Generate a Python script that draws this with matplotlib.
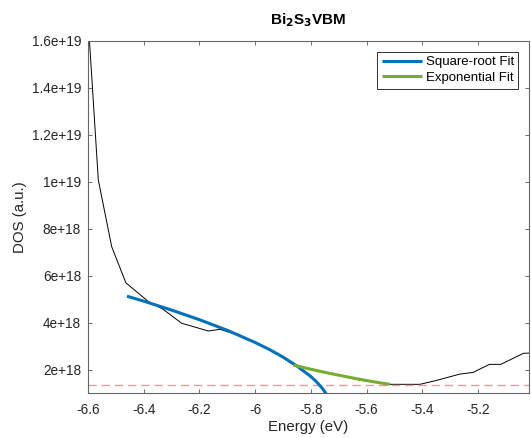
import matplotlib
matplotlib.use('Agg')
import matplotlib.pyplot as plt
import numpy as np

plt.rcParams['font.family'] = ['Liberation Sans', 'DejaVu Sans']
plt.rcParams['axes.unicode_minus'] = False

# DOS curve (energy in eV, DOS in units of 1e18)
dos_energy = [-6.6, -6.563, -6.515, -6.464, -6.383, -6.330, -6.264, -6.168, -6.126,
              -6.05, -5.98, -5.92, -5.863, -5.78, -5.71, -5.62, -5.513, -5.408,
              -5.348, -5.267, -5.217, -5.159, -5.118, -5.037, -5.017]
dos_value = [17.0, 10.09, 7.25, 5.71, 4.91, 4.58, 3.99, 3.66, 3.73,
             3.44, 3.06, 2.69, 2.22, 2.0, 1.79, 1.56, 1.39, 1.39,
             1.56, 1.82, 1.90, 2.24, 2.24, 2.71, 2.72]

# square-root fit curve
sqrt_energy = [-6.46, -6.40, -6.30, -6.20, -6.10, -6.00, -5.95, -5.90, -5.85,
               -5.80, -5.78, -5.76, -5.74]
sqrt_value = [5.14, 4.93, 4.55, 4.14, 3.69, 3.17, 2.88, 2.55, 2.17,
              1.72, 1.50, 1.24, 0.90]

# exponential fit curve
exp_energy = [-5.863, -5.80, -5.75, -5.70, -5.65, -5.60, -5.55, -5.516]
exp_value = [2.21, 2.03, 1.90, 1.78, 1.66, 1.55, 1.45, 1.39]

baseline = 1.38  # dashed reference level

xticks = [-6.6, -6.4, -6.2, -6.0, -5.8, -5.6, -5.4, -5.2]
xticklabels = ['-6.6', '-6.4', '-6.2', '-6', '-5.8', '-5.6', '-5.4', '-5.2']
yticks = [2, 4, 6, 8, 10, 12, 14, 16]
yticklabels = ['2e+18', '4e+18', '6e+18', '8e+18', '1e+19', '1.2e+19', '1.4e+19', '1.6e+19']

scale = 1e18

fig = plt.figure(figsize=(5.31, 4.38), dpi=100)
ax = fig.add_axes([0.1657, 0.1027, 0.8305, 0.8037])

ax.plot(dos_energy, np.array(dos_value) * scale, color='black', lw=0.7)
ax.axhline(baseline * scale, color='#e0a0a0', lw=1.0, ls=(0, (6, 3.5)))
l1, = ax.plot(sqrt_energy, np.array(sqrt_value) * scale, color='#0072BD', lw=2.2,
              solid_capstyle='butt', label='Square-root Fit')
l2, = ax.plot(exp_energy, np.array(exp_value) * scale, color='#77AC30', lw=2.2,
              solid_capstyle='butt', label='Exponential Fit')

ax.set_xlim(-6.6, -5.017)
ax.set_ylim(1.02e18, 1.6e19)
ax.set_xticks(xticks)
ax.set_xticklabels(xticklabels)
ax.set_yticks(np.array(yticks) * scale)
ax.set_yticklabels(yticklabels)
ax.tick_params(direction='in', length=3, width=0.6, top=True, right=True,
               labelsize=9.8, colors='#555555', labelcolor='#262626')
ax.tick_params(axis='x', pad=7)
ax.tick_params(axis='y', pad=5)
for s in ax.spines.values():
    s.set_color('#666666')
    s.set_linewidth(0.8)

ax.set_xlabel('Energy (eV)', fontsize=10.8, color='#262626', labelpad=2)
ax.set_ylabel('DOS (a.u.)', fontsize=10.8, color='#262626', labelpad=3)
ax.set_title('Bi$_\\mathbf{2}$S$_\\mathbf{3}$VBM', fontsize=11, fontweight='bold', pad=12)

leg = ax.legend(handles=[l1, l2], loc='upper right', fontsize=9.5, frameon=True,
                fancybox=False, framealpha=1, edgecolor='#333333',
                handlelength=3.0, handletextpad=0.3, borderpad=0.35,
                labelspacing=0.25, borderaxespad=0.8)
leg.get_frame().set_linewidth(0.7)

fig.savefig('out.png', dpi=100)
